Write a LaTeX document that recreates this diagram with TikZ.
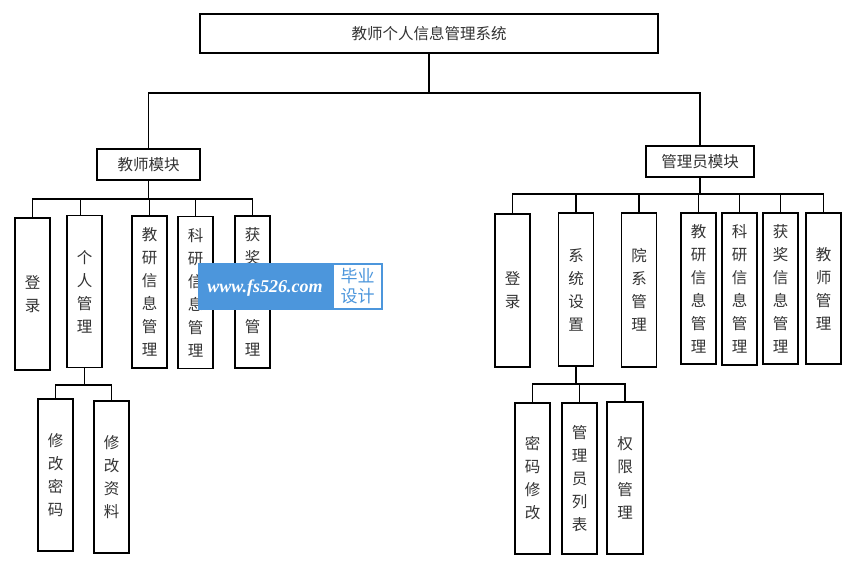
\documentclass[tikz,border=0pt]{standalone}
\usepackage{fontspec}
\setmainfont{Liberation Serif}
\newfontfamily\cjkfont{Noto Sans CJK SC}
\definecolor{wmblue}{RGB}{76,150,220}
\begin{document}
\begin{tikzpicture}[x=1pt,y=-1pt,
  box/.style={draw=black, line width=1.8pt, inner sep=0pt, align=center, text=black!80,
    font=\cjkfont\fontsize{15.5pt}{23pt}\selectfont},
  vbox/.style={box, minimum width=35, minimum height=152},
  link/.style={line width=1.8pt, draw=black}]
\useasboundingbox (0,0) rectangle (856,569);
\fill[white] (0,0) rectangle (856,569);

% root and modules
\node[box, minimum width=458, minimum height=39] (root) at (429,33.5) {教师个人信息管理系统};
\node[box, minimum width=103, minimum height=31] (T) at (148.5,164.5) {教师模块};
\node[box, minimum width=108, minimum height=31] (A) at (700,161.5) {管理员模块};

% teacher children
\node[vbox] (t1) at (32.5,294) {登\\录};
\node[vbox] (t2) at (84.5,291.5) {个\\人\\管\\理};
\node[vbox] (t3) at (149.5,292) {教\\研\\信\\息\\管\\理};
\node[vbox] (t4) at (195.5,292.5) {科\\研\\信\\息\\管\\理};
\node[vbox] (t5) at (252.5,292) {获\\奖\\信\\息\\管\\理};
\node[vbox] (g1) at (55.5,475) {修\\改\\密\\码};
\node[vbox] (g2) at (111.5,477) {修\\改\\资\\料};

% admin children
\node[vbox, minimum height=153] (r1) at (512.5,290.5) {登\\录};
\node[vbox, minimum height=153] (r2) at (576,289.5) {系\\统\\设\\置};
\node[vbox, minimum height=154] (r3) at (639,290) {院\\系\\管\\理};
\node[vbox, minimum height=151] (r4) at (698.5,288.5) {教\\研\\信\\息\\管\\理};
\node[vbox, minimum height=152] (r5) at (739.5,289) {科\\研\\信\\息\\管\\理};
\node[vbox, minimum height=151] (r6) at (780.5,288.5) {获\\奖\\信\\息\\管\\理};
\node[vbox, minimum height=151] (r7) at (823.5,288.5) {教\\师\\管\\理};
\node[vbox, minimum height=151] (s1) at (532.5,478.5) {密\\码\\修\\改};
\node[vbox, minimum height=151] (s2) at (579.5,478.5) {管\\理\\员\\列\\表};
\node[vbox, minimum height=152, minimum width=36] (s3) at (625,478) {权\\限\\管\\理};

% top connectors
\coordinate (b0) at (0,93);
\draw[link] (root.south) -- (root.south |- b0);
\draw[link] (T.north) -- (T.north |- b0) -- (A.north |- b0) -- (A.north);

% teacher connectors
\coordinate (bL) at (0,199);
\draw[link] (T.south) -- (T.south |- bL);
\draw[link] (t1.north) -- (t1.north |- bL) -- (t5.north |- bL) -- (t5.north);
\draw[link] ([xshift=-4pt]t2.north) -- ([xshift=-4pt]t2.north |- bL);
\draw[link] (t3.north) -- (t3.north |- bL);
\draw[link] (t4.north) -- (t4.north |- bL);
\coordinate (gL) at (0,385);
\draw[link] (t2.south) -- (t2.south |- gL);
\draw[link] (g1.north) -- (g1.north |- gL) -- (g2.north |- gL) -- (g2.north);

% admin connectors
\coordinate (bR) at (0,194);
\draw[link] (A.south) -- (A.south |- bR);
\draw[link] (r1.north) -- (r1.north |- bR) -- (r7.north |- bR) -- (r7.north);
\foreach \n in {r2,r3,r4,r5,r6} \draw[link] (\n.north) -- (\n.north |- bR);
\coordinate (gR) at (0,384);
\draw[link] (r2.south) -- (r2.south |- gR);
\draw[link] (s1.north) -- (s1.north |- gR) -- (s3.north |- gR) -- (s3.north);
\draw[link] (s2.north) -- (s2.north |- gR);

% watermark
\node[fill=wmblue, minimum width=185, minimum height=47, inner sep=0pt] (wm) at (290.5,286.5) {};
\node[fill=white, minimum width=47, minimum height=43, inner sep=0pt] (wmw) at (357.5,286.5) {};
\node[text=white, inner sep=0pt, font=\fontsize{18pt}{18pt}\selectfont\bfseries\itshape] (wmt) at (265,288) {www.fs526.com};
\node[text=wmblue, align=center, inner sep=0pt, font=\cjkfont\fontsize{17pt}{20pt}\selectfont] (wmc) at (357.5,286.5) {毕业\\设计};
\end{tikzpicture}
\end{document}
